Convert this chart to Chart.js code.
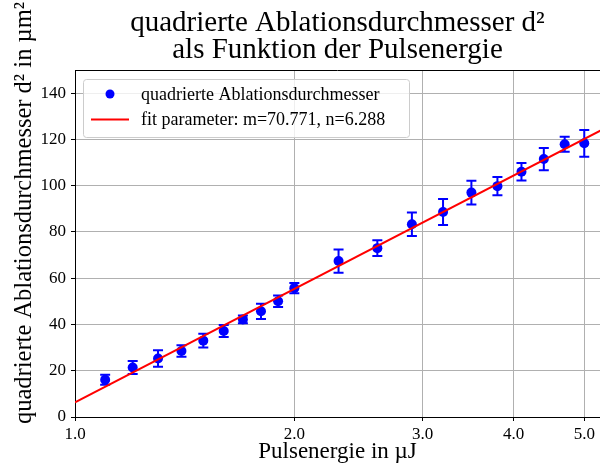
<!DOCTYPE html>
<html>
<head>
<meta charset="utf-8">
<script src="https://cdn.jsdelivr.net/npm/chart.js@4/dist/chart.umd.min.js"></script>
<style>
  html, body { margin: 0; padding: 0; background: #fff; }
  #wrap { width: 600px; height: 468px; }
</style>
</head>
<body>
<div id="wrap"><canvas id="chart" width="600" height="468"></canvas></div>
<script>
// Data
const energy = [1.1, 1.2, 1.3, 1.4, 1.5, 1.6, 1.7, 1.8, 1.9, 2.0, 2.3, 2.6, 2.9, 3.2, 3.5, 3.8, 4.1, 4.4, 4.7, 5.0];
const diameterSq = [16.1, 21.4, 25.3, 28.5, 33.0, 37.2, 42.2, 45.7, 50.0, 55.7, 67.4, 73.0, 83.3, 88.6, 97.0, 99.8, 106.0, 111.5, 117.9, 118.3];
const diameterSqErr = [2.2, 2.8, 3.6, 2.5, 3.0, 2.6, 1.7, 3.3, 2.5, 2.2, 5.0, 3.4, 5.1, 5.6, 5.1, 3.9, 3.8, 4.8, 3.2, 5.8];
const fitEnergy = [1.0, 5.26];
const fitValues = [6.3, 123.8];
const xTicks = [1, 2, 3, 4, 5];
const yTicks = [0, 20, 40, 60, 80, 100, 120, 140];

const titleLines = ['quadrierte Ablationsdurchmesser d\u00b2', 'als Funktion der Pulsenergie'];
const xLabel = 'Pulsenergie in \u00b5J';
const yLabel = 'quadrierte Ablationsdurchmesser d\u00b2 in \u00b5m\u00b2';
const legendLabels = ['quadrierte Ablationsdurchmesser', 'fit parameter: m=70.771, n=6.288'];

const SERIF = '"Liberation Serif", "DejaVu Serif", serif';
const BLUE = '#0000ff';
const RED = '#ff0000';
const GRID = '#b0b0b0';

// Error bars drawn under the markers, positioned with the chart's scales
const errorBars = {
  id: 'errorBars',
  beforeDatasetsDraw(chart) {
    const ctx = chart.ctx;
    const xs = chart.scales.x;
    const ys = chart.scales.y;
    ctx.save();
    ctx.strokeStyle = BLUE;
    ctx.lineWidth = 2;
    energy.forEach((e, i) => {
      const px = xs.getPixelForValue(e);
      const top = ys.getPixelForValue(diameterSq[i] + diameterSqErr[i]);
      const bot = ys.getPixelForValue(diameterSq[i] - diameterSqErr[i]);
      ctx.beginPath();
      ctx.moveTo(px, top); ctx.lineTo(px, bot);
      ctx.moveTo(px - 5, top); ctx.lineTo(px + 5, top);
      ctx.moveTo(px - 5, bot); ctx.lineTo(px + 5, bot);
      ctx.stroke();
    });
    ctx.restore();
  }
};

// Frame, titles and the legend box in the upper left
const decorations = {
  id: 'decorations',
  afterDraw(chart) {
    const ctx = chart.ctx;
    const area = chart.chartArea;
    const cx = (area.left + area.right) / 2;
    ctx.save();

    // top spine
    ctx.strokeStyle = '#000';
    ctx.lineWidth = 1;
    ctx.beginPath();
    ctx.moveTo(area.left, area.top + 0.5);
    ctx.lineTo(area.right, area.top + 0.5);
    ctx.stroke();

    // title
    ctx.fillStyle = '#000';
    ctx.textAlign = 'center';
    ctx.textBaseline = 'alphabetic';
    ctx.font = '29px ' + SERIF;
    ctx.fillText(titleLines[0], cx, 31);
    ctx.fillText(titleLines[1], cx, 58);

    // axis titles
    ctx.font = '23px ' + SERIF;
    ctx.fillText(xLabel, cx, 458);
    ctx.save();
    ctx.translate(31, 213);
    ctx.rotate(-Math.PI / 2);
    ctx.font = '24.5px ' + SERIF;
    ctx.fillText(yLabel, 0, 0);
    ctx.restore();

    // legend
    const lx = 83, ly = 79, lw = 326, lh = 58;
    ctx.fillStyle = 'rgba(255,255,255,0.8)';
    ctx.strokeStyle = '#cccccc';
    ctx.beginPath();
    ctx.roundRect(lx + 0.5, ly + 0.5, lw, lh, 3);
    ctx.fill();
    ctx.stroke();

    ctx.fillStyle = BLUE;
    ctx.beginPath();
    ctx.arc(110, 94, 4.5, 0, Math.PI * 2);
    ctx.fill();

    ctx.strokeStyle = RED;
    ctx.lineWidth = 2;
    ctx.beginPath();
    ctx.moveTo(91, 119.5);
    ctx.lineTo(129, 119.5);
    ctx.stroke();

    ctx.fillStyle = '#000';
    ctx.textAlign = 'left';
    ctx.textBaseline = 'middle';
    ctx.font = '18px ' + SERIF;
    ctx.fillText(legendLabels[0], 141, 95);
    ctx.fillText(legendLabels[1], 141, 120);
    ctx.restore();
  }
};

const chart = new Chart(document.getElementById('chart'), {
  type: 'scatter',
  data: {
    datasets: [
      {
        label: legendLabels[1],
        type: 'line',
        data: fitEnergy.map((e, i) => ({ x: e, y: fitValues[i] })),
        borderColor: RED,
        borderWidth: 2,
        pointRadius: 0,
        fill: false,
        order: 0
      },
      {
        label: legendLabels[0],
        data: energy.map((e, i) => ({ x: e, y: diameterSq[i] })),
        backgroundColor: BLUE,
        borderColor: BLUE,
        pointRadius: 5,
        pointBorderWidth: 0,
        order: 1
      }
    ]
  },
  options: {
    responsive: false,
    animation: false,
    layout: { autoPadding: false, padding: { top: 70, right: 0, left: 0, bottom: 0 } },
    plugins: {
      legend: { display: false },
      title: { display: false },
      tooltip: { enabled: false }
    },
    scales: {
      x: {
        type: 'logarithmic',
        min: 1,
        max: 5.255,
        afterBuildTicks: scale => { scale.ticks = xTicks.map(v => ({ value: v })); },
        afterFit: scale => {
          scale.height = 51;
          scale.paddingLeft = 0;
          scale.paddingRight = 0;
        },
        ticks: {
          autoSkip: false,
          maxRotation: 0,
          padding: 3,
          color: '#000',
          font: { family: SERIF, size: 17 },
          callback: value => Number(value).toFixed(1)
        },
        grid: { color: GRID, lineWidth: 1, tickColor: '#000', tickLength: 4, tickWidth: 1 },
        border: { display: true, color: '#000', width: 1 }
      },
      y: {
        type: 'linear',
        min: 0,
        max: 150,
        afterBuildTicks: scale => { scale.ticks = yTicks.map(v => ({ value: v })); },
        afterFit: scale => {
          scale.width = 75;
          scale.paddingTop = 0;
          scale.paddingBottom = 0;
        },
        ticks: {
          autoSkip: false,
          padding: 5,
          color: '#000',
          font: { family: SERIF, size: 17 }
        },
        grid: { color: GRID, lineWidth: 1, tickColor: '#000', tickLength: 4, tickWidth: 1 },
        border: { display: true, color: '#000', width: 1 }
      }
    }
  },
  plugins: [errorBars, decorations]
});
</script>
</body>
</html>
